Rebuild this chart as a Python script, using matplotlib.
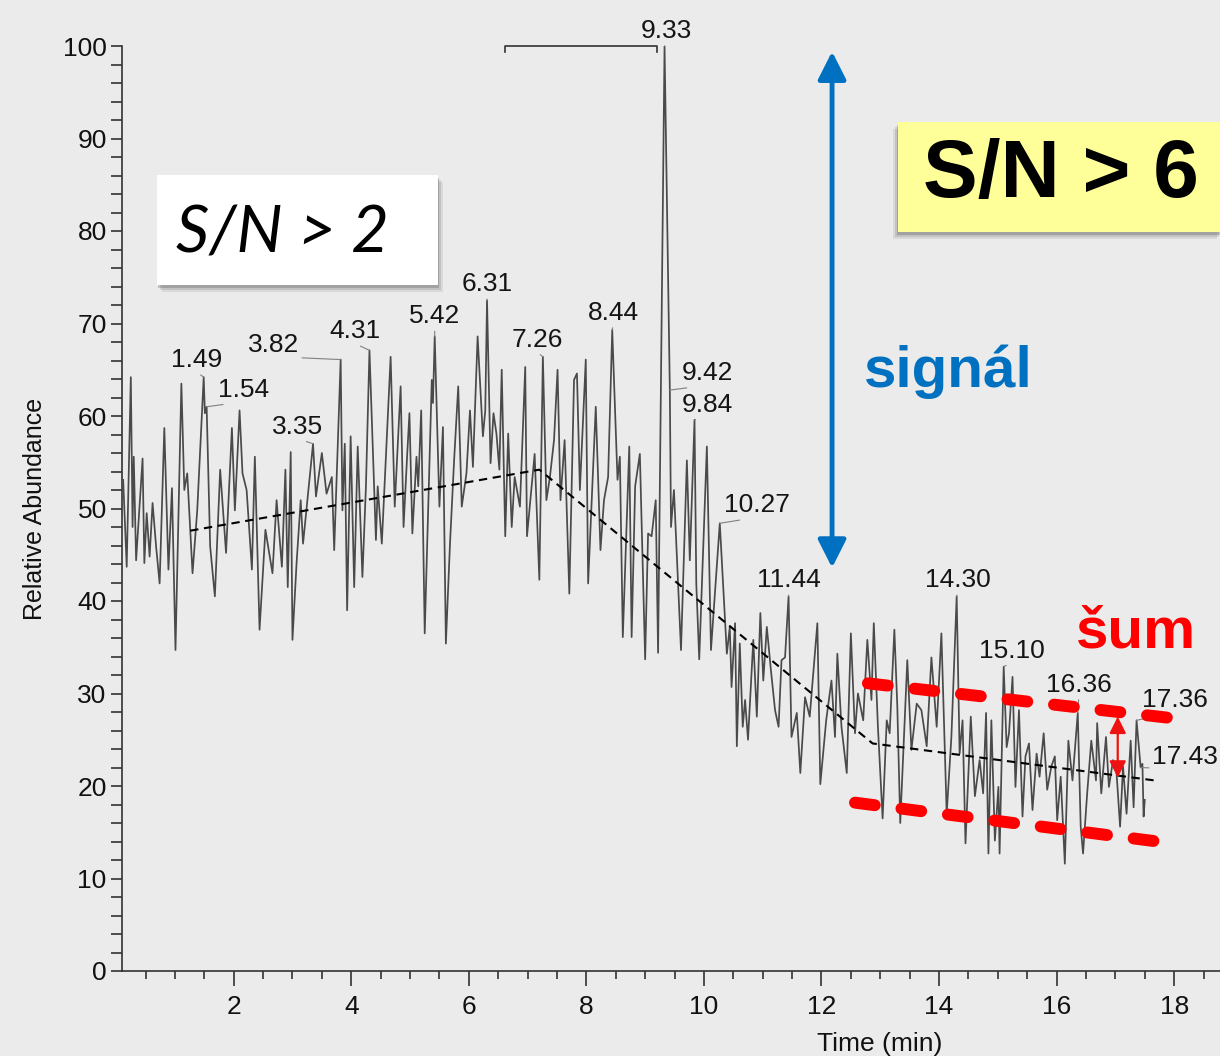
import numpy as np
import matplotlib.pyplot as plt
from matplotlib.patches import Rectangle
from matplotlib.ticker import MultipleLocator

# chromatogram trace: retention time (min) and relative abundance (%)
time_min = [
    0.12, 0.18, 0.25, 0.28, 0.30, 0.34, 0.45, 0.48, 0.52, 0.57, 0.62, 0.68, 0.74, 0.82, 0.89, 0.95,
    1.01, 1.11, 1.16, 1.21, 1.30, 1.38, 1.49, 1.51, 1.54, 1.60, 1.68, 1.77, 1.87, 1.97, 2.02, 2.10,
    2.15, 2.22, 2.31, 2.36, 2.44, 2.54, 2.66, 2.73, 2.82, 2.88, 2.92, 2.97, 3.00, 3.07, 3.14, 3.18,
    3.35, 3.40, 3.50, 3.58, 3.67, 3.71, 3.82, 3.85, 3.89, 3.93, 3.99, 4.05, 4.11, 4.19, 4.25, 4.31,
    4.42, 4.45, 4.52, 4.67, 4.74, 4.84, 4.89, 4.95, 4.99, 5.04, 5.11, 5.14, 5.19, 5.25, 5.37, 5.39,
    5.42, 5.50, 5.56, 5.61, 5.68, 5.75, 5.82, 5.88, 5.96, 6.02, 6.07, 6.15, 6.24, 6.28, 6.31, 6.37,
    6.42, 6.47, 6.52, 6.56, 6.62, 6.67, 6.73, 6.78, 6.87, 6.96, 6.99, 7.12, 7.20, 7.26, 7.32, 7.38,
    7.45, 7.51, 7.56, 7.63, 7.71, 7.79, 7.84, 7.89, 7.99, 8.03, 8.16, 8.24, 8.30, 8.37, 8.44, 8.53,
    8.57, 8.62, 8.73, 8.77, 8.83, 8.91, 9.00, 9.05, 9.11, 9.18, 9.22, 9.33, 9.42, 9.44, 9.49, 9.61,
    9.71, 9.76, 9.84, 9.87, 9.92, 10.05, 10.12, 10.27, 10.39, 10.44, 10.47, 10.53, 10.56, 10.61,
    10.66, 10.70, 10.75, 10.84, 10.90, 10.96, 11.01, 11.07, 11.14, 11.21, 11.27, 11.32, 11.38,
    11.44, 11.49, 11.58, 11.64, 11.72, 11.80, 11.93, 11.98, 12.08, 12.17, 12.23, 12.27, 12.34,
    12.43, 12.50, 12.57, 12.62, 12.71, 12.78, 12.85, 12.89, 12.96, 13.04, 13.11, 13.16, 13.24,
    13.29, 13.34, 13.46, 13.53, 13.62, 13.70, 13.79, 13.87, 13.96, 14.04, 14.13, 14.21, 14.30,
    14.35, 14.40, 14.45, 14.54, 14.61, 14.69, 14.75, 14.80, 14.84, 14.89, 14.95, 15.01, 15.03,
    15.10, 15.15, 15.19, 15.25, 15.30, 15.36, 15.42, 15.47, 15.53, 15.59, 15.66, 15.71, 15.78,
    15.84, 15.91, 15.97, 16.01, 16.07, 16.14, 16.20, 16.27, 16.36, 16.41, 16.45, 16.52, 16.59,
    16.67, 16.69, 16.76, 16.84, 16.89, 16.96, 17.02, 17.08, 17.13, 17.19, 17.26, 17.31, 17.36,
    17.43, 17.46, 17.48, 17.50,
]
abundance = [
    53.1, 43.7, 64.2, 48.0, 55.6, 44.4, 55.4, 44.1, 49.5, 44.8, 50.6, 45.9, 41.9, 58.7, 43.4, 52.2,
    34.7, 63.5, 52.0, 53.8, 43.0, 49.8, 64.2, 60.3, 61.0, 45.9, 40.5, 54.2, 45.2, 58.7, 49.8, 60.6,
    53.8, 52.0, 43.4, 55.6, 36.9, 47.7, 43.0, 50.9, 43.7, 54.2, 41.5, 56.1, 35.8, 44.1, 50.9, 46.2,
    57.0, 51.3, 56.0, 51.6, 53.4, 45.5, 66.1, 49.8, 57.0, 39.0, 57.8, 41.5, 56.7, 42.6, 52.4, 67.1,
    46.6, 52.4, 46.2, 66.4, 50.2, 63.2, 48.0, 55.6, 60.3, 47.3, 55.6, 52.4, 60.6, 36.5, 63.9, 61.4,
    68.6, 50.2, 58.8, 35.4, 46.2, 55.2, 63.2, 50.2, 53.8, 60.6, 54.5, 68.6, 57.8, 60.6, 72.5, 54.9,
    60.3, 58.1, 54.2, 65.0, 47.0, 58.1, 48.0, 53.4, 50.2, 65.3, 47.0, 55.9, 42.3, 66.4, 50.9, 53.4,
    57.4, 65.0, 50.9, 57.4, 40.8, 63.9, 64.6, 52.0, 66.1, 41.9, 61.0, 45.5, 50.9, 53.4, 69.3, 53.1,
    55.6, 36.1, 56.7, 36.1, 52.4, 55.9, 33.7, 47.3, 47.0, 50.9, 34.4, 100.0, 62.8, 48.0, 52.0, 34.7,
    55.2, 44.4, 59.6, 41.9, 33.7, 56.7, 34.7, 48.4, 34.3, 37.2, 30.7, 37.6, 24.3, 35.4,
    26.4, 29.3, 25.0, 35.8, 27.5, 38.7, 31.4, 37.2, 32.5, 28.2, 26.4, 33.6, 33.9,
    40.5, 25.3, 27.9, 21.4, 29.6, 27.5, 37.6, 20.2, 27.1, 31.4, 25.3, 34.3, 26.4,
    21.4, 36.5, 25.7, 30.0, 27.1, 35.8, 29.3, 37.6, 26.4, 16.5, 27.1, 25.7, 36.9,
    28.6, 16.0, 33.6, 23.9, 28.9, 28.2, 24.3, 33.9, 26.4, 36.5, 17.0, 25.3, 40.5,
    23.5, 27.1, 13.8, 27.5, 18.9, 22.8, 19.2, 27.9, 12.7, 27.1, 14.1, 19.9, 12.7,
    32.9, 24.2, 25.7, 31.8, 19.9, 28.2, 16.7, 23.2, 24.6, 17.4, 23.5, 21.0, 25.7,
    19.6, 22.1, 23.2, 16.3, 21.0, 11.6, 24.9, 20.6, 27.9, 15.6, 12.7, 19.2, 24.9,
    20.6, 26.8, 19.2, 25.3, 19.9, 22.8, 21.4, 15.6, 22.1, 17.0, 24.9, 17.7, 27.1,
    22.0, 22.4, 16.7, 18.5,
]

# labelled peaks
peak_times = [1.49, 1.54, 3.35, 3.82, 4.31, 5.42, 6.31, 7.26, 8.44, 9.33,
              9.42, 9.84, 10.27, 11.44, 14.30, 15.10, 16.36, 17.36, 17.43]
peak_labels = ["1.49", "1.54", "3.35", "3.82", "4.31", "5.42", "6.31", "7.26", "8.44", "9.33",
               "9.42", "9.84", "10.27", "11.44", "14.30", "15.10", "16.36", "17.36", "17.43"]
# label centre offsets from the peak apex, pixels
label_offsets = [(-7, 17), (37, 17), (-15, 17), (-67, 15), (-15, 19), (0, 20), (0, 16),
                 (-6, 17), (1, 17), (2, 15), (38, 17), (13, 15), (37, 18), (0, 16),
                 (1, 16), (8, 16), (1, 28), (38, 20), (44, 10)]

# hand-drawn baseline through the noise
baseline_t = [1.26, 7.2, 12.87, 17.67]
baseline_v = [47.6, 54.2, 24.6, 20.6]

# noise envelope (upper and lower dashed lines) and markers
noise_upper_t = [12.79, 18.01]
noise_upper_v = [31.1, 27.3]
noise_lower_t = [12.57, 17.96]
noise_lower_v = [18.2, 13.8]
signal_arrow_t = 12.18
signal_arrow_v = (43.6, 99.4)
noise_arrow_t = 17.04
noise_arrow_v = (20.9, 27.5)
scale_bar_t = (6.62, 9.2)

W, H = 1220, 1056
plt.rcParams['font.family'] = ['Liberation Sans', 'DejaVu Sans']

fig = plt.figure(figsize=(W / 100, H / 100), dpi=100, facecolor='#ebebeb')
ax = fig.add_axes([122 / W, 1 - 971 / H, 1 - 122 / W, 925 / H])
ax.set_facecolor('none')

ax.plot(time_min, abundance, color='#4a4a4a', lw=1.25, zorder=3)
ax.plot(baseline_t, baseline_v, color='black', lw=1.5, dashes=(4, 2.7), zorder=4)

ax.set_xlim(0.1, 0.1 + (W - 122) / 58.78)
ax.set_ylim(0, 100)
for side in ['top', 'right']:
    ax.spines[side].set_visible(False)
for side in ['left', 'bottom']:
    ax.spines[side].set_color('#333333')
    ax.spines[side].set_linewidth(1.2)

ax.xaxis.set_major_locator(MultipleLocator(2))
ax.xaxis.set_minor_locator(MultipleLocator(0.5))
ax.yaxis.set_major_locator(MultipleLocator(10))
ax.yaxis.set_minor_locator(MultipleLocator(2))
ax.set_xticks(np.arange(2, 19, 2))
ax.tick_params(axis='both', which='both', direction='out', color='#333333',
               labelsize=19, labelcolor='#111111', width=1.2)
ax.tick_params(axis='x', which='major', length=11, pad=6)
ax.tick_params(axis='x', which='minor', length=6)
ax.tick_params(axis='y', which='both', length=8, pad=3)

ax.set_xlabel('Time (min)', fontsize=19, color='#111111')
ax.xaxis.set_label_coords((880 - 122) / (W - 122), -0.066)
ax.set_ylabel('Relative Abundance', fontsize=18, color='#111111')
ax.yaxis.set_label_coords((47 - 122) / (W - 122), 0.5)

# small scale bar printed at the top of the trace
ax.plot([scale_bar_t[0], scale_bar_t[0], scale_bar_t[1], scale_bar_t[1]],
        [99.4, 100, 100, 99.4], color='#333333', lw=1.2, clip_on=False)

# peak retention-time labels with leader lines
for t, lab, (dx, dy) in zip(peak_times, peak_labels, label_offsets):
    v = np.interp(t, time_min, abundance)
    ax.annotate(lab, xy=(t, v), xytext=(dx, dy), textcoords='offset pixels',
                ha='center', va='center', fontsize=19, color='#151515', zorder=5,
                annotation_clip=False,
                arrowprops=dict(arrowstyle='-', color='#808080', lw=0.8,
                                shrinkA=0, shrinkB=0, relpos=(0.5, 0)))

# signal arrow
ax.annotate('', xy=(signal_arrow_t, signal_arrow_v[1]), xytext=(signal_arrow_t, signal_arrow_v[0]),
            annotation_clip=False,
            arrowprops=dict(arrowstyle='<|-|>,head_length=0.85,head_width=0.43',
                            mutation_scale=20, color='#0070C0', lw=3.5,
                            shrinkA=0, shrinkB=0))

# noise envelope
for tt, vv in [(noise_upper_t, noise_upper_v), (noise_lower_t, noise_lower_v)]:
    ln, = ax.plot(tt, vv, color='#ff0000', lw=8.6, dashes=(1.67, 2.25),
                  solid_capstyle='round', zorder=6, clip_on=False)
    ln.set_dash_capstyle('round')

ax.annotate('', xy=(noise_arrow_t, noise_arrow_v[0]), xytext=(noise_arrow_t, noise_arrow_v[1]),
            arrowprops=dict(arrowstyle='<|-|>,head_length=1.0,head_width=0.5',
                            mutation_scale=10, color='#ee1111', lw=1.6,
                            shrinkA=0, shrinkB=0), zorder=7)


def box(x0, y0, x1, y1, face, shift):
    # rectangle given in image pixels (origin top-left), with a soft shadow
    for k, a in [(7, 0.10), (5, 0.15), (3, 0.25)]:
        fig.patches.append(Rectangle(((x0 + shift * (k - 2)) / W, 1 - (y1 + k) / H),
                                     (x1 - x0) / W, (y1 - y0) / H,
                                     transform=fig.transFigure, facecolor='#404040',
                                     edgecolor='none', alpha=a, zorder=8))
    fig.patches.append(Rectangle((x0 / W, 1 - y1 / H), (x1 - x0) / W, (y1 - y0) / H,
                                 transform=fig.transFigure, facecolor=face,
                                 edgecolor='none', zorder=9))


box(157, 175, 438, 285, 'white', 1)
box(898, 122, 1222, 232, '#ffff99', -1)

fig.text(282 / W, 1 - 233 / H, 'S/N > 2', fontsize=47, family='Lato', style='italic',
         ha='center', va='center', color='black', zorder=10)
fig.text(1061 / W, 1 - 176 / H, 'S/N > 6', fontsize=59, fontweight='bold',
         ha='center', va='center', color='black', zorder=10)
fig.text(948 / W, 1 - 372 / H, 'signál', fontsize=42, fontweight='bold',
         ha='center', va='center', color='#0070C0', zorder=10)
fig.text(1136 / W, 1 - 632 / H, 'šum', fontsize=42, fontweight='bold',
         ha='center', va='center', color='#ff0000', zorder=10)

fig.savefig('out.png', dpi=100, facecolor=fig.get_facecolor())
